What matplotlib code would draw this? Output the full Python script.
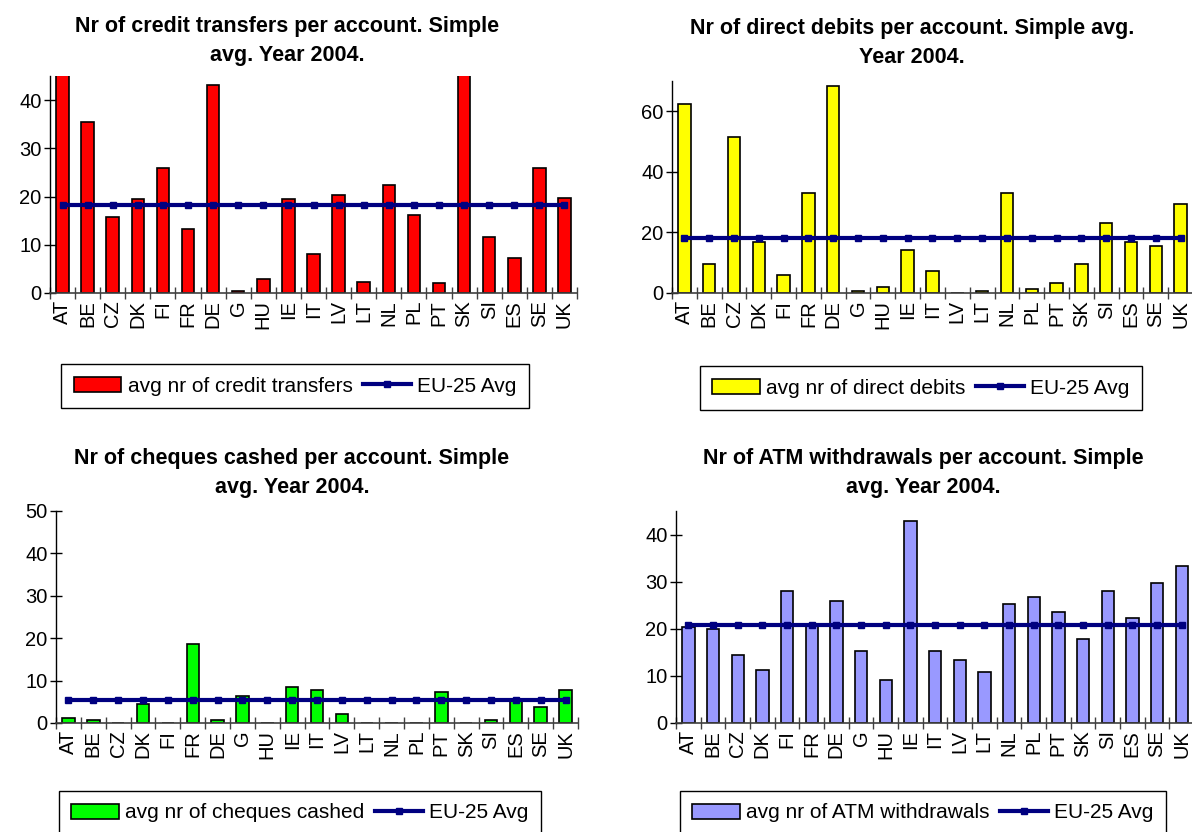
import matplotlib
matplotlib.use("Agg")
import matplotlib.pyplot as plt
from matplotlib.ticker import FixedLocator, NullFormatter, FixedFormatter

plt.rcParams['font.family'] = ['Liberation Sans', 'DejaVu Sans']

countries = ['AT', 'BE', 'CZ', 'DK', 'FI', 'FR', 'DE', 'G', 'HU', 'IE', 'IT',
             'LV', 'LT', 'NL', 'PL', 'PT', 'SK', 'SI', 'ES', 'SE', 'UK']

# values (AT and SK run off the top of the first chart)
credit_transfers = [50, 35.5, 15.8, 19.5, 26, 13.3, 43.2, 0.4, 2.8, 19.5, 8,
                    20.3, 2.3, 22.3, 16.2, 2, 50, 11.7, 7.3, 26, 19.8]
credit_avg = 18.3

direct_debits = [62.5, 9.5, 51.5, 16.8, 5.8, 33, 68.3, 0.5, 2, 14.2, 7.2,
                 0, 0.5, 33, 1.3, 3.2, 9.7, 23.2, 16.8, 15.5, 29.5]
debits_avg = 18

cheques = [1.2, 0.8, 0, 4.5, 0, 18.7, 0.8, 6.3, 0, 8.6, 7.7,
           2.2, 0, 0, 0, 7.2, 0, 0.8, 5.2, 3.7, 7.7]
cheques_avg = 5.4

atm = [20.3, 20, 14.5, 11.2, 28, 20.5, 26, 15.3, 9.2, 42.8, 15.3,
       13.3, 10.8, 25.2, 26.8, 23.5, 17.8, 28, 22.3, 29.7, 33.3]
atm_avg = 20.8

W, H = 1192, 832
fig = plt.figure(figsize=(W / 100, H / 100), dpi=100)


def px_axes(left, right, top, bottom):
    # axes from pixel edges of the reference picture
    return fig.add_axes([left / W, 1 - bottom / H, (right - left) / W, (bottom - top) / H])


def panel(ax, values, avg, color, ylim, yticks, title, title_xy, label, legend_xy):
    n = len(countries)
    xs = list(range(n))
    bars = ax.bar(xs, values, width=0.5, color=color, edgecolor='black', linewidth=1.2,
                  label=label, zorder=2)
    line, = ax.plot(xs, [avg] * n, color='#000080', linewidth=3, marker='s', markersize=4,
                    label='EU-25 Avg', zorder=3)

    ax.set_xlim(-0.5, n - 0.5)
    ax.set_ylim(*ylim)
    ax.set_yticks(yticks)

    # tick marks between categories, labels at the category centres
    ax.xaxis.set_major_locator(FixedLocator([i - 0.5 for i in range(n + 1)]))
    ax.xaxis.set_major_formatter(NullFormatter())
    ax.xaxis.set_minor_locator(FixedLocator(xs))
    ax.xaxis.set_minor_formatter(FixedFormatter(countries))
    ax.tick_params(axis='x', which='major', direction='inout', length=8, width=1, color='#404040')
    ax.tick_params(axis='x', which='minor', length=0, labelsize=14.5, labelrotation=90, pad=5)
    ax.tick_params(axis='y', direction='inout', length=8, width=1, labelsize=14.5, pad=2)

    for side in ['top', 'right']:
        ax.spines[side].set_visible(False)
    ax.spines['bottom'].set_color('#404040')
    ax.spines['bottom'].set_linewidth(1.2)
    ax.spines['left'].set_linewidth(1)

    fig.text(title_xy[0] / W, 1 - title_xy[1] / H, title, ha='center', va='center',
             fontsize=15.5, fontweight='bold', linespacing=1.45)

    # bars first, then the average line
    leg = ax.legend([bars, line], [label, 'EU-25 Avg'], loc='center',
                    bbox_to_anchor=(legend_xy[0] / W, 1 - legend_xy[1] / H),
                    bbox_transform=fig.transFigure, ncol=2, fontsize=15, frameon=True,
                    fancybox=False, edgecolor='black', framealpha=1,
                    handlelength=2.3, handleheight=0.7, handletextpad=0.3,
                    columnspacing=0.5, borderpad=0.6, borderaxespad=0)
    leg.get_frame().set_linewidth(1)


ax1 = px_axes(50, 577, 76, 293)
panel(ax1, credit_transfers, credit_avg, '#FF0000', (0, 45), [0, 10, 20, 30, 40],
      "Nr of credit transfers per account. Simple\navg. Year 2004.", (287, 41),
      'avg nr of credit transfers', (295, 386))

ax2 = px_axes(672, 1193, 81, 293)
panel(ax2, direct_debits, debits_avg, '#FFFF00', (0, 70), [0, 20, 40, 60],
      "Nr of direct debits per account. Simple avg.\nYear 2004.", (912, 43),
      'avg nr of direct debits', (921, 388))

ax3 = px_axes(56, 578, 511, 723)
panel(ax3, cheques, cheques_avg, '#00FF00', (0, 50), [0, 10, 20, 30, 40, 50],
      "Nr of cheques cashed per account. Simple\navg. Year 2004.", (292, 473),
      'avg nr of cheques cashed', (300, 813))

ax4 = px_axes(676, 1194, 511, 723)
panel(ax4, atm, atm_avg, '#9999FF', (0, 45), [0, 10, 20, 30, 40],
      "Nr of ATM withdrawals per account. Simple\navg. Year 2004.", (923, 473),
      'avg nr of ATM withdrawals', (923, 813))

fig.savefig('out.png', dpi=100)
